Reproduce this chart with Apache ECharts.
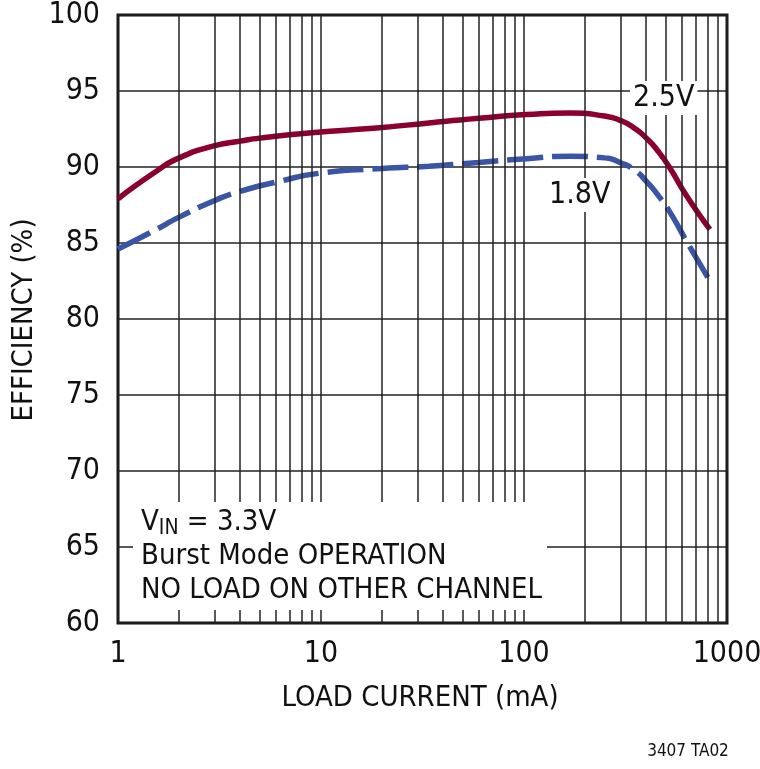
<!DOCTYPE html>
<html>
<head>
<meta charset="utf-8">
<script src="https://cdn.jsdelivr.net/npm/echarts@6/dist/echarts.min.js"></script>
<style>
  html, body { margin: 0; padding: 0; background: #fff; }
  #main { width: 760px; height: 769px; }
</style>
</head>
<body>
<div id="main"></div>
<script>
// 负载电流 (mA) 与效率 (%)
var current25 = [1, 1.5, 2, 3, 4, 5, 10, 20, 34, 60, 103, 169, 250, 300, 350, 404, 460, 525, 633, 824];
var eff25 = [87.9, 89.6, 90.6, 91.4, 91.7, 91.9, 92.3, 92.6, 92.9, 93.2, 93.45, 93.55, 93.35, 93.05, 92.55, 91.85, 91.0, 89.9, 88.1, 85.9];

var current18 = [1, 1.5, 2, 3, 4, 6, 10, 20, 34, 60, 103, 169, 250, 297, 350, 404, 460, 525, 633, 815];
var eff18 = [84.6, 85.8, 86.7, 87.8, 88.4, 89.0, 89.6, 89.9, 90.05, 90.3, 90.55, 90.7, 90.6, 90.3, 89.8, 89.0, 88.1, 87.0, 85.1, 82.6];

// 次网格线位置
var minorLines = [2, 3, 4, 5, 6, 7, 8, 9, 20, 30, 40, 50, 60, 70, 80, 90, 200, 300, 400, 500, 600, 700, 800, 900];

var FONT = "'Liberation Sans Narrow', 'DejaVu Sans Condensed', 'Roboto Condensed', 'Liberation Sans', sans-serif";

function pairs(xs, ys) {
    var out = [];
    for (var i = 0; i < xs.length; i++) out.push([xs[i], ys[i]]);
    return out;
}

var myChart = echarts.init(document.getElementById('main'));

var option = {
    backgroundColor: '#fff',
    animation: false,
    grid: {
        left: 118, top: 15, right: 33, bottom: 146,
        outerBoundsMode: 'none', containLabel: false,
        show: true, borderColor: '#111', borderWidth: 3, backgroundColor: 'transparent'
    },
    xAxis: {
        type: 'log', logBase: 10, min: 1, max: 1000,
        axisLine: { show: false },
        axisTick: { show: false },
        axisLabel: {
            fontFamily: FONT, fontSize: 30, color: '#111', margin: 16,
            formatter: function (v) { return String(Math.round(v)); }
        },
        splitLine: { show: true, lineStyle: { color: '#222', width: 1.5 } }
    },
    yAxis: {
        type: 'value', min: 60, max: 100, interval: 5,
        axisLine: { show: false },
        axisTick: { show: false },
        axisLabel: { fontFamily: FONT, fontSize: 30, color: '#111', margin: 18 },
        splitLine: { show: true, lineStyle: { color: '#222', width: 1.5 } }
    },
    series: [
        {
            type: 'line', data: [], z: 1, silent: true,
            markLine: {
                silent: true, symbol: 'none', label: { show: false },
                lineStyle: { color: '#222', width: 1.5, type: 'solid' },
                data: minorLines.map(function (v) { return { xAxis: v }; })
            }
        },
        {
            name: '2.5V', type: 'line', smooth: 0.6, showSymbol: false, z: 3,
            lineStyle: { color: '#8c0030', width: 5.5 },
            data: pairs(current25, eff25)
        },
        {
            name: '1.8V', type: 'line', smooth: 0.6, showSymbol: false, z: 3,
            lineStyle: { color: '#3a55a5', width: 5.5, type: [36, 9] },
            data: pairs(current18, eff18)
        }
    ],
    graphic: [
        { type: 'rect', z: 100, shape: { x: 133, y: 502, width: 414, height: 108 }, style: { fill: '#fff' } },
        {
            type: 'text', z: 101, left: 141, top: 506,
            style: {
                text: '{a|V}{s|IN}{a| = 3.3V}\n{a|Burst Mode OPERATION}\n{a|NO LOAD ON OTHER CHANNEL}',
                rich: {
                    a: { fontFamily: FONT, fontSize: 29, fill: '#111', lineHeight: 34 },
                    s: { fontFamily: FONT, fontSize: 21, fill: '#111', lineHeight: 34, verticalAlign: 'bottom', padding: [12, 0, 0, 0] }
                }
            }
        },
        {
            type: 'text', z: 101, left: 630, top: 81,
            style: { text: '2.5V', fontFamily: FONT, fontSize: 30, fill: '#111', backgroundColor: '#fff', padding: [2, 3, 2, 3] }
        },
        {
            type: 'text', z: 101, left: 546, top: 178,
            style: { text: '1.8V', fontFamily: FONT, fontSize: 30, fill: '#111', backgroundColor: '#fff', padding: [2, 3, 2, 3] }
        },
        {
            type: 'text', z: 101, x: 24, y: 320, rotation: Math.PI / 2,
            style: { text: 'EFFICIENCY (%)', fontFamily: FONT, fontSize: 29, fill: '#111', align: 'center', verticalAlign: 'middle' }
        },
        {
            type: 'text', z: 101, x: 420, y: 698,
            style: { text: 'LOAD CURRENT (mA)', fontFamily: FONT, fontSize: 29, fill: '#111', align: 'center', verticalAlign: 'middle' }
        },
        {
            type: 'text', z: 101, x: 688, y: 752,
            style: { text: '3407 TA02', fontFamily: FONT, fontSize: 17, fill: '#111', align: 'center', verticalAlign: 'middle' }
        }
    ]
};

myChart.setOption(option);
</script>
</body>
</html>
